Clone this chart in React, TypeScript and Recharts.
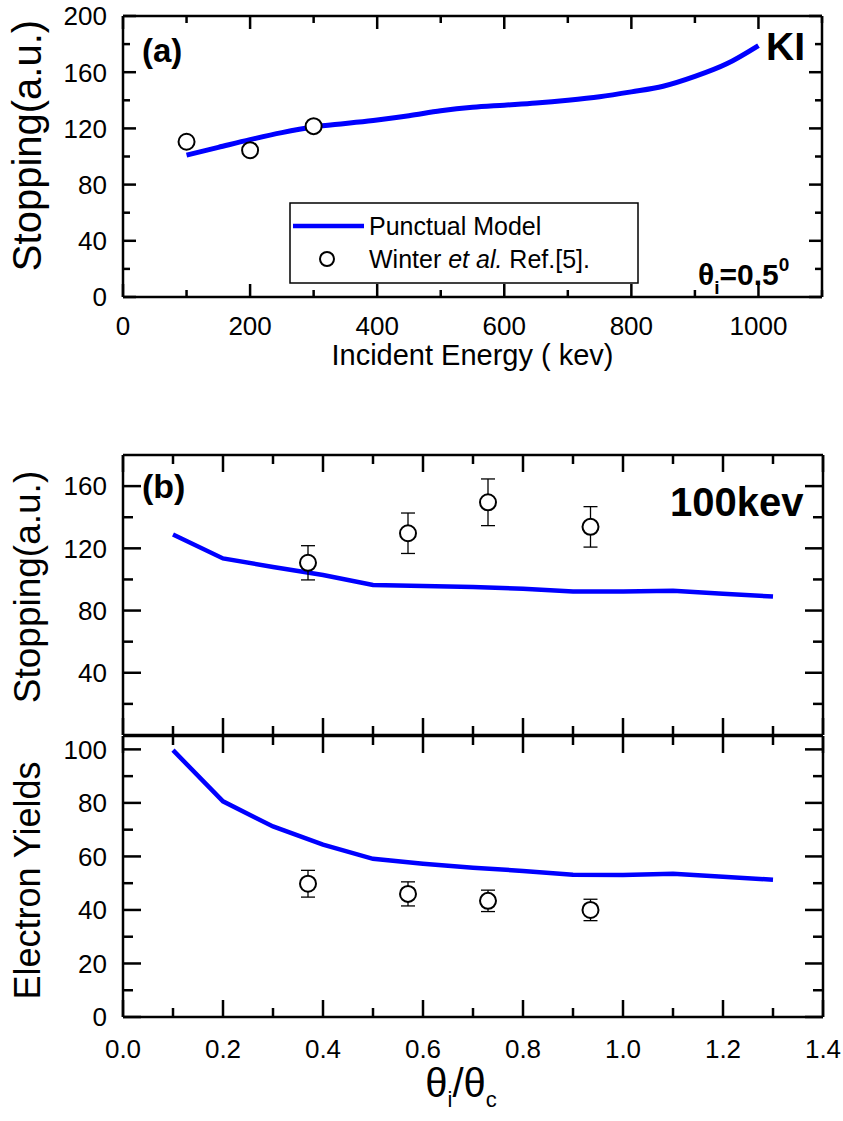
import React from "react";
import { ComposedChart, Line, Scatter, XAxis, YAxis, ErrorBar, Legend } from "recharts";

const FONT = '"Liberation Sans", Arial, Helvetica, sans-serif';
const BLUE = "#0000FF";

// (a) KI, theta_i = 0.5 deg : stopping vs incident energy
const energyKev = [100, 150, 200, 250, 300, 350, 400, 450, 500, 550, 600, 650, 700, 750, 800, 850, 900, 950, 1000];
const stoppingModelA = [101, 106.5, 112, 117, 121, 123.5, 126, 129, 132.5, 135, 136.5, 138, 140, 142.5, 146, 150, 157, 166, 179];
const winterEnergy = [100, 200, 300];
const winterStopping = [110.5, 104.5, 121.6];

// (b) 100 keV : stopping and electron yields vs theta_i/theta_c
const thetaRatio = [0.1, 0.2, 0.3, 0.4, 0.5, 0.6, 0.7, 0.8, 0.9, 1.0, 1.1, 1.2, 1.3];
const stoppingModelB = [128.9, 113.5, 108, 102.8, 96.4, 95.8, 95.2, 94, 92.2, 92.2, 92.8, 90.8, 89];
const yieldModel = [99.7, 80.6, 71.2, 64.4, 59.1, 57.3, 55.8, 54.6, 53.2, 53.1, 53.5, 52.4, 51.3];
const expRatio = [0.37, 0.57, 0.73, 0.935];
const expStopping = [110.7, 129.7, 149.6, 133.8];
const expStoppingErr = [11, 13, 15, 13];
const expYield = [49.8, 46, 43.4, 40];
const expYieldErr = [5, 4.5, 4, 4];

// tick values
const energyMajor = [0, 200, 400, 600, 800, 1000];
const energyMinor = [100, 300, 500, 700, 900, 1100];
const stopMajorA = [0, 40, 80, 120, 160, 200];
const stopMinorA = [20, 60, 100, 140, 180];
const stopMajorB = [40, 80, 120, 160];
const stopMinorB = [20, 60, 100, 140];
const yieldMajor = [0, 20, 40, 60, 80, 100];
const yieldMinor = [10, 30, 50, 70, 90];
const ratioMajor = [0, 0.2, 0.4, 0.6, 0.8, 1.0, 1.2, 1.4];
const ratioMinor = [0.1, 0.3, 0.5, 0.7, 0.9, 1.1, 1.3];

const lineA = energyKev.map((x, i) => ({ x, y: stoppingModelA[i] }));
const pointsA = winterEnergy.map((x, i) => ({ x, y: winterStopping[i] }));
const lineB1 = thetaRatio.map((x, i) => ({ x, y: stoppingModelB[i] }));
const pointsB1 = expRatio.map((x, i) => ({ x, y: expStopping[i], err: expStoppingErr[i] }));
const lineB2 = thetaRatio.map((x, i) => ({ x, y: yieldModel[i] }));
const pointsB2 = expRatio.map((x, i) => ({ x, y: expYield[i], err: expYieldErr[i] }));

const both = (a: number[], b: number[]) => [...a, ...b].sort((p, q) => p - q);

type Side = "bottom" | "top" | "left" | "right";

// inward tick marks (long for major, short for minor) plus labels on major ones
function makeTick(side: Side, major: number[], majorLen: number, minorLen: number, fmt?: (v: number) => string, labelGap = 40) {
  return (props: any) => {
    const x = Number(props.x);
    const y = Number(props.y);
    const v = Number(props.payload.value);
    const isMajor = major.some((m) => Math.abs(m - v) < 1e-6);
    const len = isMajor ? majorLen : minorLen;
    let x2 = x;
    let y2 = y;
    if (side === "bottom") y2 = y - len;
    if (side === "top") y2 = y + len;
    if (side === "left") x2 = x + len;
    if (side === "right") x2 = x - len;
    return (
      <g>
        <line x1={x} y1={y} x2={x2} y2={y2} stroke="#000" strokeWidth={2.5} />
        {fmt && isMajor && side === "bottom" && (
          <text x={x} y={y + labelGap} textAnchor="middle" fontSize={26} fontFamily={FONT} fill="#000">
            {fmt(v)}
          </text>
        )}
        {fmt && isMajor && side === "left" && (
          <text x={x - 16} y={y} dy="0.36em" textAnchor="end" fontSize={26} fontFamily={FONT} fill="#000">
            {fmt(v)}
          </text>
        )}
      </g>
    );
  };
}

const yTitle = (text: string, shift: number, size: number) => (props: any) => {
  const vb = props.viewBox;
  const cx = 27;
  const cy = vb.y + vb.height / 2 + shift;
  return (
    <text x={cx} y={cy} transform={`rotate(-90 ${cx} ${cy})`} textAnchor="middle" dominantBaseline="central" fontSize={size} fontFamily={FONT} fill="#000">
      {text}
    </text>
  );
};

const axisLine = { stroke: "#000", strokeWidth: 2.5 };
const int = (v: number) => String(v);
const dec = (v: number) => v.toFixed(1);

const openCircle = (props: any) => (
  <circle cx={props.cx} cy={props.cy} r={8} fill="#fff" stroke="#000" strokeWidth={2} />
);

const legendA = () => (
  <svg width={350} height={82} style={{ display: "block" }}>
    <rect x={1} y={1} width={348} height={80} fill="#fff" stroke="#000" strokeWidth={1.5} />
    <line x1={4} y1={24} x2={75} y2={24} stroke={BLUE} strokeWidth={4.5} />
    <text x={80} y={33} fontSize={25} fontFamily={FONT} fill="#000">Punctual Model</text>
    <circle cx={38} cy={57} r={7} fill="#fff" stroke="#000" strokeWidth={2} />
    <text x={80} y={66} fontSize={25} fontFamily={FONT} fill="#000">
      Winter <tspan fontStyle="italic">et al.</tspan> Ref.[5].
    </text>
  </svg>
);

const ratioTitle = (props: any) => {
  const vb = props.viewBox;
  const cx = vb.x + vb.width / 2 - 12;
  const y = vb.y + 80;
  return (
    <text x={cx} y={y} textAnchor="middle" fontSize={40} fontFamily={FONT} fill="#000">
      θ<tspan fontSize={22} dy={10}>i</tspan>
      <tspan dy={-10}>/θ</tspan>
      <tspan fontSize={22} dy={10}>c</tspan>
    </text>
  );
};

const energyTitle = (props: any) => {
  const vb = props.viewBox;
  return (
    <text x={vb.x + vb.width / 2} y={vb.y + 68} textAnchor="middle" fontSize={29} fontFamily={FONT} fill="#000">
      Incident Energy ( kev)
    </text>
  );
};

export default function App() {
  return (
    <div style={{ position: "absolute", left: 0, top: 0, width: 843, height: 1121, background: "#fff", fontFamily: FONT }}>
      {/* panel (a) */}
      <div style={{ position: "absolute", left: 0, top: 0 }}>
        <ComposedChart width={843} height={380} margin={{ top: 15, right: 20, bottom: 0, left: 0 }}>
          <XAxis xAxisId="b" type="number" dataKey="x" domain={[0, 1100]} allowDataOverflow ticks={both(energyMajor, energyMinor)} interval={0}
            height={83} axisLine={axisLine} tickLine={false} tickSize={0} tickMargin={0}
            tick={makeTick("bottom", energyMajor, 13, 7, int, 38)} label={{ content: energyTitle }} />
          <XAxis xAxisId="t" orientation="top" type="number" dataKey="x" domain={[0, 1100]} allowDataOverflow ticks={both(energyMajor, energyMinor)} interval={0}
            height={1} axisLine={axisLine} tickLine={false} tickSize={0} tickMargin={0} tick={makeTick("top", energyMajor, 13, 7)} />
          <YAxis yAxisId="l" type="number" dataKey="y" domain={[0, 200]} allowDataOverflow ticks={both(stopMajorA, stopMinorA)} interval={0}
            width={123} axisLine={axisLine} tickLine={false} tickSize={0} tickMargin={0}
            tick={makeTick("left", stopMajorA, 13, 7, int)} label={{ content: yTitle("Stopping(a.u.)", -11, 40) }} />
          <YAxis yAxisId="r" orientation="right" type="number" dataKey="y" domain={[0, 200]} allowDataOverflow ticks={both(stopMajorA, stopMinorA)} interval={0}
            width={1} axisLine={axisLine} tickLine={false} tickSize={0} tickMargin={0} tick={makeTick("right", stopMajorA, 13, 7)} />
          <Line xAxisId="b" yAxisId="l" data={lineA} dataKey="y" type="monotone" stroke={BLUE} strokeWidth={5} dot={false} isAnimationActive={false} />
          <Scatter xAxisId="b" yAxisId="l" data={pointsA} dataKey="y" shape={openCircle} isAnimationActive={false} />
          <Legend layout="vertical" align="center" verticalAlign="middle" content={legendA}
            wrapperStyle={{ position: "absolute", left: 289, top: 202, width: 350, height: 82 }} />
        </ComposedChart>
      </div>

      {/* panel (b) upper: stopping */}
      <div style={{ position: "absolute", left: 0, top: 440 }}>
        <ComposedChart width={843} height={297} margin={{ top: 14, right: 19, bottom: 0, left: 0 }}>
          <XAxis xAxisId="b" type="number" dataKey="x" domain={[0, 1.4]} allowDataOverflow ticks={both(ratioMajor, ratioMinor)} interval={0}
            height={2} axisLine={axisLine} tickLine={false} tickSize={0} tickMargin={0} tick={makeTick("bottom", ratioMajor, 17, 9)} />
          <XAxis xAxisId="t" orientation="top" type="number" dataKey="x" domain={[0, 1.4]} allowDataOverflow ticks={both(ratioMajor, ratioMinor)} interval={0}
            height={1} axisLine={axisLine} tickLine={false} tickSize={0} tickMargin={0} tick={makeTick("top", ratioMajor, 17, 9)} />
          <YAxis yAxisId="l" type="number" dataKey="y" domain={[0, 180]} allowDataOverflow ticks={both(stopMajorB, stopMinorB)} interval={0}
            width={123} axisLine={axisLine} tickLine={false} tickSize={0} tickMargin={0}
            tick={makeTick("left", stopMajorB, 18, 10, int)} label={{ content: yTitle("Stopping(a.u.)", -8, 37) }} />
          <YAxis yAxisId="r" orientation="right" type="number" dataKey="y" domain={[0, 180]} allowDataOverflow ticks={both(stopMajorB, stopMinorB)} interval={0}
            width={1} axisLine={axisLine} tickLine={false} tickSize={0} tickMargin={0} tick={makeTick("right", stopMajorB, 18, 10)} />
          <Line xAxisId="b" yAxisId="l" data={lineB1} dataKey="y" type="linear" stroke={BLUE} strokeWidth={4.5} dot={false} isAnimationActive={false} />
          <Scatter xAxisId="b" yAxisId="l" data={pointsB1} dataKey="y" shape={openCircle} isAnimationActive={false}>
            <ErrorBar dataKey="err" direction="y" width={7} stroke="#000" strokeWidth={1.3} />
          </Scatter>
        </ComposedChart>
      </div>

      {/* panel (b) lower: electron yields */}
      <div style={{ position: "absolute", left: 0, top: 735 }}>
        <ComposedChart width={843} height={386} margin={{ top: 0, right: 19, bottom: 0, left: 0 }}>
          <XAxis xAxisId="b" type="number" dataKey="x" domain={[0, 1.4]} allowDataOverflow ticks={both(ratioMajor, ratioMinor)} interval={0}
            height={104} axisLine={axisLine} tickLine={false} tickSize={0} tickMargin={0}
            tick={makeTick("bottom", ratioMajor, 17, 9, dec, 41)} label={{ content: ratioTitle }} />
          <XAxis xAxisId="t" orientation="top" type="number" dataKey="x" domain={[0, 1.4]} allowDataOverflow ticks={both(ratioMajor, ratioMinor)} interval={0}
            height={1} axisLine={axisLine} tickLine={false} tickSize={0} tickMargin={0} tick={makeTick("top", ratioMajor, 17, 9)} />
          <YAxis yAxisId="l" type="number" dataKey="y" domain={[0, 105]} allowDataOverflow ticks={both(yieldMajor, yieldMinor)} interval={0}
            width={123} axisLine={axisLine} tickLine={false} tickSize={0} tickMargin={0}
            tick={makeTick("left", yieldMajor, 18, 10, int)} label={{ content: yTitle("Electron Yields", 4, 36) }} />
          <YAxis yAxisId="r" orientation="right" type="number" dataKey="y" domain={[0, 105]} allowDataOverflow ticks={both(yieldMajor, yieldMinor)} interval={0}
            width={1} axisLine={axisLine} tickLine={false} tickSize={0} tickMargin={0} tick={makeTick("right", yieldMajor, 18, 10)} />
          <Line xAxisId="b" yAxisId="l" data={lineB2} dataKey="y" type="linear" stroke={BLUE} strokeWidth={4.5} dot={false} isAnimationActive={false} />
          <Scatter xAxisId="b" yAxisId="l" data={pointsB2} dataKey="y" shape={openCircle} isAnimationActive={false}>
            <ErrorBar dataKey="err" direction="y" width={7} stroke="#000" strokeWidth={1.3} />
          </Scatter>
        </ComposedChart>
      </div>

      {/* in-plot annotations */}
      <svg width={843} height={1121} style={{ position: "absolute", left: 0, top: 0, pointerEvents: "none" }}>
        <text x={142} y={62} fontSize={33} fontWeight="bold" fontFamily={FONT}>(a)</text>
        <text x={766} y={60} fontSize={39} fontWeight="bold" fontFamily={FONT}>KI</text>
        <text x={698} y={285} fontSize={30} fontWeight="bold" fontFamily={FONT}>
          θ<tspan fontSize={19} dy={9}>i</tspan>
          <tspan dy={-9}>=0.5</tspan>
          <tspan fontSize={19} dy={-14}>0</tspan>
        </text>
        <text x={142} y={498} fontSize={34} fontWeight="bold" fontFamily={FONT}>(b)</text>
        <text x={670} y={516} fontSize={40} fontWeight="bold" fontFamily={FONT}>100kev</text>
      </svg>
    </div>
  );
}
